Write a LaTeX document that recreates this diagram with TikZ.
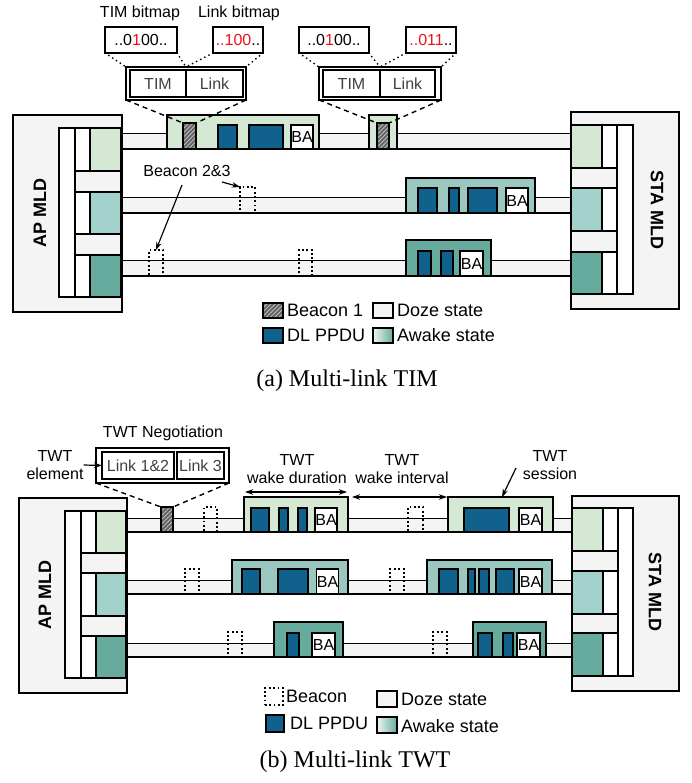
\documentclass[tikz,border=0pt]{standalone}
\usepackage{fontspec}
\setmainfont{Liberation Serif}
\setsansfont{Liberation Sans}
\usetikzlibrary{arrows.meta,patterns.meta,calc}
\definecolor{dozegray}{HTML}{F4F4F4}
\definecolor{awk1}{HTML}{D5E8D4}
\definecolor{awk2}{HTML}{A3D1CB}
\definecolor{awk2b}{HTML}{9AC7BF}
\definecolor{awk3}{HTML}{67AB9F}
\definecolor{ppdublue}{HTML}{10628C}
\definecolor{bitred}{HTML}{E8141B}
\definecolor{boxtext}{HTML}{404040}
% \rb{name}{style}{x1}{y1}{x2}{y2}{text}
\newcommand{\rb}[7]{\node[#2, inner sep=0pt, outer sep=0pt, minimum width={(#5)-(#3)}, minimum height={(#6)-(#4)}] (#1) at ({((#3)+(#5))/2},{((#4)+(#6))/2}) {#7};}
% \linkline{x1}{ytop}{x2}{ybottom}
\newcommand{\linkline}[4]{\fill[dozegray] (#1,#2) rectangle (#3,#4); \draw[line width=1pt] (#1,#2)--(#3,#2); \draw[line width=1.5pt] (#1,#4)--(#3,#4);}
\begin{document}
\begin{tikzpicture}[x=1pt,y=-1pt,font=\sffamily,
  frame/.style={draw=black, line width=1.2pt},
  mldbox/.style={frame, fill=dozegray},
  cell/.style={frame, fill=white},
  doze/.style={frame, fill=dozegray},
  aw1/.style={frame, fill=awk1},
  aw2/.style={frame, fill=awk2},
  aw2b/.style={frame, fill=awk2b},
  aw3/.style={frame, fill=awk3},
  ppdu/.style={frame, fill=ppdublue},
  ba/.style={frame, fill=white, font=\sffamily\fontsize{16}{16}\selectfont},
  hbeacon/.style={frame, preaction={fill=black!62}, pattern={Lines[angle=45,distance=3pt,line width=0.9pt]}, pattern color=black!25},
  dbeacon/.style={draw=black, line width=1.5pt, dash pattern=on 1.8pt off 2.5pt},
  txt/.style={font=\sffamily\fontsize{16}{19}\selectfont, inner sep=0pt, align=center},
  leg/.style={font=\sffamily\fontsize{18}{21}\selectfont, inner sep=0pt, anchor=west},
  captxt/.style={font=\rmfamily\fontsize{24}{28}\selectfont, inner sep=0pt},
  mldtxt/.style={font=\sffamily\bfseries\fontsize{18}{21}\selectfont, inner sep=0pt},
  fieldbox/.style={frame, fill=white, font=\sffamily\fontsize{16}{19}\selectfont, text=boxtext},
  outbox/.style={draw=black, line width=1.5pt, fill=white},
  bitbox/.style={frame, fill=white, font=\sffamily\fontsize{16}{19}\selectfont},
  dotline/.style={line width=2pt, dash pattern=on 0pt off 4.6pt, line cap=round},
  dashline/.style={line width=1.4pt, dash pattern=on 5pt off 4pt},
  arr/.style={line width=1.2pt, -{Stealth[length=8pt,width=5.5pt]}},
  darr/.style={line width=1.2pt, {Stealth[length=8pt,width=5.5pt]}-{Stealth[length=8pt,width=5.5pt]}}
]
\useasboundingbox (0,0) rectangle (691,783);

%%%%%%%%%%%%%%%%%%%%%% (a) Multi-link TIM %%%%%%%%%%%%%%%%%%%%%%
\linkline{122}{134}{571}{149}
\linkline{122}{198}{571}{213}
\linkline{122}{261}{571}{276}

% AP MLD (a)
\rb{apA}{mldbox}{13}{115}{122}{312}{}
\rb{apAin}{cell}{59}{128}{121}{297}{}
\rb{apA1w}{cell}{75}{128}{90}{171}{}
\rb{apA1}{aw1}{90}{128}{121}{171}{}
\rb{apAg1}{doze}{75}{171}{121}{192}{}
\rb{apA2w}{cell}{75}{192}{90}{234}{}
\rb{apA2}{aw2}{90}{192}{121}{234}{}
\rb{apAg2}{doze}{75}{234}{121}{255}{}
\rb{apA3w}{cell}{75}{255}{90}{297}{}
\rb{apA3}{aw3}{90}{255}{121}{297}{}
\node[mldtxt, rotate=90] (apAt) at (40,213) {AP MLD};

% STA MLD (a)
\rb{staA}{mldbox}{571}{112}{679}{309}{}
\rb{staAin}{cell}{571}{125}{633}{294}{}
\rb{staA1}{aw1}{571}{125}{602}{168}{}
\rb{staA1w}{cell}{602}{125}{617}{168}{}
\rb{staAg1}{doze}{571}{168}{617}{188}{}
\rb{staA2}{aw2}{571}{188}{602}{231}{}
\rb{staA2w}{cell}{602}{188}{617}{231}{}
\rb{staAg2}{doze}{571}{231}{617}{252}{}
\rb{staA3}{aw3}{571}{252}{602}{294}{}
\rb{staA3w}{cell}{602}{252}{617}{294}{}
\node[mldtxt, rotate=-90] (staAt) at (657,210) {STA MLD};

% link 1 (a)
\rb{awA1a}{aw1}{167}{115}{319}{149}{}
\rb{bcA1a}{hbeacon}{183}{123}{196}{149}{}
\rb{pA1a}{ppdu}{218}{125}{237}{149}{}
\rb{pA1b}{ppdu}{249}{125}{283}{149}{}
\rb{baA1}{ba}{291}{125}{313}{149}{BA}
\rb{awA1b}{aw1}{369}{115}{397}{149}{}
\rb{bcA1b}{hbeacon}{377}{123}{389}{149}{}

% link 2 (a)
\rb{dbA2}{dbeacon}{240}{187}{255}{213}{}
\rb{awA2}{aw2b}{406}{178}{535}{213}{}
\rb{pA2a}{ppdu}{418}{188}{437}{213}{}
\rb{pA2b}{ppdu}{449}{188}{459}{213}{}
\rb{pA2c}{ppdu}{468}{188}{497}{213}{}
\rb{baA2}{ba}{506}{188}{528}{213}{BA}

% link 3 (a)
\rb{dbA3a}{dbeacon}{149}{250}{163}{276}{}
\rb{dbA3b}{dbeacon}{299}{250}{312}{276}{}
\rb{awA3}{aw3}{406}{240}{491}{276}{}
\rb{pA3a}{ppdu}{418}{251}{431}{276}{}
\rb{pA3b}{ppdu}{441}{251}{453}{276}{}
\rb{baA3}{ba}{460}{251}{483}{276}{BA}

% Beacon 2&3 label
\node[txt] (b23) at (187,171) {Beacon 2\&3};
\coordinate (b23s1) at (182,185);
\coordinate (b23s2) at (222,182);
\draw[arr] (b23s1) -- (dbA3a.north);
\draw[arr] (b23s2) -- (dbA2.north west);

% TIM / Link element boxes
\rb{outA1}{outbox}{126}{67}{246}{100}{}
\rb{timA1}{fieldbox}{130}{70}{186}{97}{TIM}
\rb{lnkA1}{fieldbox}{186}{70}{243}{97}{Link}
\rb{outA2}{outbox}{319}{67}{441}{100}{}
\rb{timA2}{fieldbox}{323}{70}{380}{97}{TIM}
\rb{lnkA2}{fieldbox}{380}{70}{435}{97}{Link}

% bitmaps
\rb{bm1}{bitbox}{105}{27}{177}{53}{..0\textcolor{bitred}{1}00..}
\rb{bm2}{bitbox}{213}{27}{263}{53}{\textcolor{bitred}{..100}..}
\rb{bm3}{bitbox}{299}{27}{369}{53}{..0\textcolor{bitred}{1}00..}
\rb{bm4}{bitbox}{406}{27}{456}{53}{\textcolor{bitred}{..011}..}
\node[txt] (bmlab1) at (140,13) {TIM bitmap};
\node[txt] (bmlab2) at (239,13) {Link bitmap};

% dotted zoom lines
\draw[dotline] (bm1.south west) -- (outA1.north west);
\draw[dotline] (bm1.south east) -- (timA1.north east |- outA1.north);
\draw[dotline] (bm2.south west) -- (timA1.north east |- outA1.north);
\draw[dotline] (bm2.south east) -- (outA1.north east);
\draw[dotline] (bm3.south west) -- (outA2.north west);
\draw[dotline] (bm3.south east) -- (timA2.north east |- outA2.north);
\draw[dotline] (bm4.south west) -- (timA2.north east |- outA2.north);
\draw[dotline] (bm4.south east) -- (outA2.north east);

% dashed zoom lines
\draw[dashline] (outA1.south west) -- (bcA1a.north west);
\draw[dashline] (outA1.south east) -- (bcA1a.north east);
\draw[dashline] (outA2.south west) -- (bcA1b.north west);
\draw[dashline] (outA2.south east) -- (bcA1b.north east);

% legend (a)
\rb{lgA1}{hbeacon}{263}{303}{283}{318}{}
\node[leg] (lgA1t) at (287,310) {Beacon 1};
\rb{lgA2}{doze}{373}{303}{393}{318}{}
\node[leg] (lgA2t) at (397,310) {Doze state};
\rb{lgA3}{ppdu}{263}{328}{283}{343}{}
\node[leg] (lgA3t) at (287,335) {DL PPDU};
\rb{lgA4}{frame, left color=awk1!40!white, right color=awk3}{373}{328}{393}{343}{}
\node[leg] (lgA4t) at (397,335) {Awake state};

\node[captxt] (capA) at (347,381) {(a) Multi-link TIM};

%%%%%%%%%%%%%%%%%%%%%% (b) Multi-link TWT %%%%%%%%%%%%%%%%%%%%%%
\linkline{127}{518}{572}{532}
\linkline{127}{580}{572}{594}
\linkline{127}{643}{572}{657}

% AP MLD (b)
\rb{apB}{mldbox}{19}{498}{127}{693}{}
\rb{apBin}{cell}{65}{511}{126}{678}{}
\rb{apB1w}{cell}{81}{511}{96}{553}{}
\rb{apB1}{aw1}{96}{511}{126}{553}{}
\rb{apBg1}{doze}{81}{553}{126}{573}{}
\rb{apB2w}{cell}{81}{573}{96}{616}{}
\rb{apB2}{aw2}{96}{573}{126}{616}{}
\rb{apBg2}{doze}{81}{616}{126}{636}{}
\rb{apB3w}{cell}{81}{636}{96}{678}{}
\rb{apB3}{aw3}{96}{636}{126}{678}{}
\node[mldtxt, rotate=90] (apBt) at (45,595) {AP MLD};

% STA MLD (b)
\rb{staB}{mldbox}{572}{496}{679}{691}{}
\rb{staBin}{cell}{572}{508}{633}{676}{}
\rb{staB1}{aw1}{572}{508}{603}{551}{}
\rb{staB1w}{cell}{603}{508}{618}{551}{}
\rb{staBg1}{doze}{572}{551}{618}{571}{}
\rb{staB2}{aw2}{572}{571}{603}{614}{}
\rb{staB2w}{cell}{603}{571}{618}{614}{}
\rb{staBg2}{doze}{572}{614}{618}{633}{}
\rb{staB3}{aw3}{572}{633}{603}{676}{}
\rb{staB3w}{cell}{603}{633}{618}{676}{}
\node[mldtxt, rotate=-90] (staBt) at (655,592) {STA MLD};

% link 1 (b)
\rb{bcB1}{hbeacon}{161}{507}{173}{532}{}
\rb{dbB1a}{dbeacon}{204}{507}{217}{532}{}
\rb{awB1a}{aw1}{244}{497}{348}{532}{}
\rb{pB1a}{ppdu}{251}{508}{269}{532}{}
\rb{pB1b}{ppdu}{279}{508}{288}{532}{}
\rb{pB1c}{ppdu}{298}{508}{307}{532}{}
\rb{baB1a}{ba}{315}{508}{337}{532}{BA}
\rb{dbB1b}{dbeacon}{408}{507}{423}{532}{}
\rb{awB1b}{aw1}{448}{497}{553}{532}{}
\rb{pB1d}{ppdu}{464}{508}{509}{532}{}
\rb{baB1b}{ba}{519}{508}{542}{532}{BA}

% link 2 (b)
\rb{dbB2a}{dbeacon}{185}{569}{199}{594}{}
\rb{awB2a}{aw2b}{232}{560}{348}{594}{}
\rb{pB2a}{ppdu}{242}{569}{260}{594}{}
\rb{pB2b}{ppdu}{278}{569}{308}{594}{}
\rb{baB2a}{ba}{317}{569}{338}{594}{BA}
\rb{dbB2b}{dbeacon}{390}{569}{404}{594}{}
\rb{awB2b}{aw2b}{427}{560}{552}{594}{}
\rb{pB2c}{ppdu}{439}{569}{458}{594}{}
\rb{pB2d}{ppdu}{468}{569}{475}{594}{}
\rb{pB2e}{ppdu}{479}{569}{489}{594}{}
\rb{pB2f}{ppdu}{496}{569}{514}{594}{}
\rb{baB2b}{ba}{519}{569}{542}{594}{BA}

% link 3 (b)
\rb{dbB3a}{dbeacon}{228}{632}{242}{657}{}
\rb{awB3a}{aw3}{274}{622}{343}{657}{}
\rb{pB3a}{ppdu}{287}{633}{299}{657}{}
\rb{baB3a}{ba}{312}{633}{335}{657}{BA}
\rb{dbB3b}{dbeacon}{433}{632}{447}{657}{}
\rb{awB3b}{aw3}{473}{622}{546}{657}{}
\rb{pB3b}{ppdu}{478}{633}{492}{657}{}
\rb{pB3c}{ppdu}{503}{633}{513}{657}{}
\rb{baB3b}{ba}{517}{633}{540}{657}{BA}

% TWT negotiation box
\rb{negout}{outbox}{96}{448}{229}{483}{}
\rb{lk12}{fieldbox}{102}{452}{174}{479}{Link 1\&2}
\rb{lk3}{fieldbox}{177}{452}{224}{479}{Link 3}
\node[txt] (neglab) at (163,433) {TWT Negotiation};
\node[txt] (twtel) at (55,465) {TWT\\[-1pt]element};
\draw[arr] (twtel.east) -- (lk12.west);
\draw[dashline] (negout.south west) -- (bcB1.north west);
\draw[dashline] (negout.south east) -- (bcB1.north east);

% TWT timing labels
\node[txt] (durlab) at (297,469) {TWT\\[-1pt]wake duration};
\node[txt] (intlab) at (402,469) {TWT\\[-1pt]wake interval};
\node[txt] (seslab) at (550,465) {TWT\\[-1pt]session};
\coordinate (durL) at (245,492);
\coordinate (durR) at (347,492);
\coordinate (intL) at (352,497);
\coordinate (intR) at (447,497);
\draw[darr] (durL) -- (durR);
\draw[darr] (intL) -- (intR);
\coordinate (sesS) at (516,468);
\coordinate (sesE) at (502,497);
\draw[arr] (sesS) -- (sesE);

% legend (b)
\rb{lgB1}{dbeacon}{265}{688}{283}{705}{}
\node[leg] (lgB1t) at (286,696) {Beacon};
\rb{lgB2}{doze}{377}{691}{397}{707}{}
\node[leg] (lgB2t) at (401,699) {Doze state};
\rb{lgB3}{ppdu}{266}{715}{284}{732}{}
\node[leg] (lgB3t) at (290,723) {DL PPDU};
\rb{lgB4}{frame, left color=awk1!40!white, right color=awk3}{377}{717}{397}{733}{}
\node[leg] (lgB4t) at (401,726) {Awake state};

\node[captxt] (capB) at (355,762) {(b) Multi-link TWT};
\end{tikzpicture}
\end{document}
